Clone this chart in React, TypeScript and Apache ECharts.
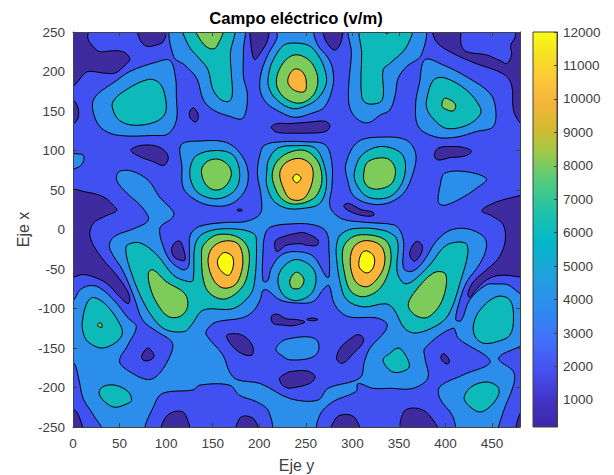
import React, { useEffect, useRef } from "react";
import * as echarts from "echarts";

type P = number[][];

const xTicks = [0, 50, 100, 150, 200, 250, 300, 350, 400, 450];
const barTicks = [1000, 2000, 3000, 4000, 5000, 6000, 7000, 8000, 9000, 10000, 11000, 12000];
const barRange = [190, 12000];
const parula: [number, string][] = [
  [0, "#3e26a8"], [0.07, "#4234c8"], [0.14, "#4750ee"], [0.22, "#4070fa"], [0.3, "#2d8cf0"],
  [0.38, "#22a0dc"], [0.47, "#02b8c8"], [0.55, "#22c4a8"], [0.63, "#58cc78"], [0.7, "#a4c844"],
  [0.76, "#d6ba30"], [0.82, "#f4b43c"], [0.88, "#fcc838"], [0.94, "#f6e024"], [1, "#f9fb15"],
];

const c0 = "#3d2b9f";
const c1 = "#4150f0";
const c2 = "#2a8eea";
const c3 = "#0db9b9";
const c4 = "#7ccb5b";
const c5 = "#fdb43c";
const c6 = "#f9fb10";

// Level 2 regions (outlines in data units: eje y, eje x)
const l2Big: P = [[-8,-92],[1,-89],[7,-77],[18,-71],[29,-74],[45,-91],[59,-112],[68,-123],[59,-146],[50,-167],[61,-180],[81,-190],[93,-182],[106,-155],[106,-142],[90,-129],[75,-115],[66,-87],[54,-53],[40,-26],[40,-15],[47,-7],[61,-1],[75,6],[80,10],[81,16],[72,31],[58,46],[47,62],[49,73],[63,74],[81,62],[93,41],[108,22],[106,14],[95,5],[93,-1],[95,-15],[104,-39],[118,-51],[124,-47],[125,-26],[126,-7],[136,4],[165,9],[185,10],[201,20],[202,42],[198,71],[201,96],[206,107],[224,111],[249,111],[271,107],[278,84],[278,54],[276,29],[288,14],[315,9],[344,6],[351,-1],[355,-15],[355,-49],[364,-53],[376,-41],[390,-15],[405,-1],[423,1],[441,-9],[444,-22],[437,-43],[423,-66],[416,-87],[411,-114],[417,-115],[426,-89],[444,-70],[455,-69],[467,-70],[480,-81],[488,-85],[488,-258],[-8,-258]];
const l2Edge: P = [[-8,97],[2,96],[11,94],[11,86],[6,79],[-8,76]];
const l2TopLeft: P = [[21,160],[27,172],[45,187],[61,200],[90,212],[104,214],[110,193],[111,168],[111,138],[102,121],[86,119],[50,119],[33,126],[24,140]];
const l2Col: P = [[107,258],[108,219],[120,208],[133,191],[140,164],[151,151],[169,143],[181,140],[186,151],[187,174],[183,193],[183,227],[182,258]];
const l2ColR: P = [[298,258],[299,223],[296,181],[297,155],[305,140],[317,135],[330,145],[340,151],[346,170],[349,191],[358,206],[374,221],[376,258]];
const l2TopRight: P = [[368,160],[371,130],[390,117],[412,117],[433,124],[451,130],[454,151],[448,172],[423,193],[398,208],[378,215],[372,185]];
const l2Peak: P = [[220,258],[219,242],[210,223],[202,198],[201,176],[208,160],[222,149],[238,142],[256,147],[270,155],[279,181],[279,202],[274,217],[263,233],[258,250],[258,258]];
const l2MidL: P = [[116,107],[136,112],[165,110],[181,94],[188,73],[185,50],[169,32],[145,31],[127,41],[118,54],[117,79]];
const l2MidR: P = [[293,83],[306,111],[333,117],[358,113],[368,96],[365,71],[355,46],[337,33],[317,33],[301,43],[295,62]];
const l2Side: P = [[392,37],[394,54],[399,71],[423,73],[444,64],[433,52],[419,41],[401,31],[394,32]];
const l2Island: P = [[218,-152],[224,-142],[233,-138],[254,-136],[263,-142],[263,-155],[254,-163],[233,-165],[226,-161]];

// Level 1 pockets inside the big level 2 region
const holeU: P = [[204,-65],[204,-30],[206,-7],[212,3],[233,7],[258,6],[272,-3],[275,-30],[275,-60],[272,-60],[258,-34],[240,-28],[224,-32],[213,-49],[209,-65]];
const holeA: P = [[204,-77],[209,-77],[222,-89],[240,-93],[258,-91],[270,-74],[275,-71],[281,-95],[295,-110],[326,-112],[337,-119],[335,-129],[319,-150],[313,-167],[308,-188],[274,-201],[263,-216],[233,-214],[201,-195],[176,-190],[168,-180],[161,-159],[143,-133],[145,-125],[154,-117],[181,-112],[193,-104],[201,-89]];
const holeB: P = [[264,-258],[265,-235],[279,-218],[304,-205],[306,-195],[322,-201],[340,-201],[365,-201],[381,-188],[378,-163],[378,-150],[408,-125],[414,-138],[448,-167],[419,-184],[394,-199],[394,-214],[408,-237],[408,-258]];
const holeC: P = [[80,-258],[88,-220],[97,-207],[129,-203],[136,-197],[168,-197],[179,-210],[197,-218],[210,-230],[211,-258]];
const holeD: P = [[457,-163],[473,-180],[473,-197],[462,-231],[458,-258],[488,-258],[488,-144],[480,-148]];
const holeE: P = [[32,-258],[22,-235],[11,-214],[6,-188],[1,-169],[-8,-165],[-8,-258]];

// Level 0 depressions
const l0Shapes: P[] = [
  [[16,258],[16,242],[22,231],[29,225],[40,226],[54,225],[61,216],[56,208],[45,198],[33,198],[16,200],[9,193],[2,183],[-8,175],[-8,258]],
  [[-8,168],[2,162],[6,150],[4,138],[-8,128]],
  [[70,258],[72,240],[79,232],[88,233],[97,238],[100,258]],
  [[192,258],[191,235],[195,215],[201,223],[209,240],[209,258]],
  [[129,154],[134,147],[134,139],[131,136],[126,141],[125,148]],
  [[213,130],[219,134],[233,134],[254,136],[271,137],[276,131],[271,124],[254,122],[233,122],[226,122],[217,124]],
  [[62,100],[68,105],[81,107],[93,104],[101,96],[102,88],[97,81],[86,86],[72,92]],
  [[-8,48],[16,47],[33,41],[43,31],[47,24],[33,16],[22,8],[18,-5],[22,-20],[33,-39],[47,-58],[59,-79],[61,-89],[59,-94],[50,-85],[36,-68],[22,-60],[11,-57],[-8,-60]],
  [[176,24.5],[179,26],[182,24.5],[179,23]],
  [[269,258],[271,240],[281,227],[288,238],[288,258]],
  [[387,258],[390,238],[408,223],[433,210],[462,197],[471,183],[473,151],[480,135],[488,128],[488,258],[476,258],[475,244],[470,233],[471,221],[466,210],[460,213],[444,221],[423,225],[417,233],[414,258]],
  [[388,94],[392,103],[405,105],[419,104],[428,99],[421,93],[405,91],[392,88]],
  [[291,31],[296,33],[310,25],[322,22],[323,18],[314,17],[301,21],[292,27]],
  [[439,24],[455,35],[480,43],[488,46],[488,-62],[480,-60],[458,-58],[444,-64],[433,-76],[426,-86],[424,-81],[430,-66],[444,-51],[457,-36],[464,-15],[462,6],[450,17]],
  [[106,-24],[110,-16],[115,-15],[119,-26],[120,-39],[111,-37],[107,-32]],
  [[217,-15],[226,-9],[244,-4],[251,-5],[263,-13],[262,-20],[251,-20],[244,-18],[229,-20],[219,-28]],
  [[213,-110],[219,-107],[229,-113],[240,-114],[249,-117],[240,-121],[233,-122],[226,-121],[215,-119]],
  [[251,-114],[257,-112],[263,-114],[257,-115.5]],
  [[165,-134],[176,-132],[185,-136],[193,-148],[192,-159],[181,-157],[170,-146]],
  [[74,-159],[80,-150],[84,-153],[87,-161],[81,-166],[75,-165]],
  [[222,-188],[229,-182],[233,-180],[251,-179],[260,-186],[254,-195],[233,-201],[229,-200],[224,-196]],
  [[95,-258],[100,-237],[111,-230],[120,-233],[124,-258]],
  [[175,-258],[179,-239],[186,-236],[195,-241],[199,-258]],
  [[-8,-225],[1,-228],[6,-235],[10,-258],[-8,-258]],
  [[283,-163],[287,-150],[296,-140],[306,-133],[312,-138],[310,-146],[301,-157],[292,-168],[287,-169]],
  [[277,-258],[283,-238],[294,-234],[303,-239],[308,-258]],
  [[353,-258],[355,-231],[367,-226],[381,-233],[392,-258]],
  [[362,-34],[363,-24],[369,-15],[375,-20],[374,-30],[367,-40]],
  [[395,-162],[398,-157],[404,-165],[403,-170],[398,-168]],
  [[476,-258],[480,-233],[488,-225],[488,-258]],
];

// Level 3 regions
const l3Shapes: P[] = [
  [[58,-20],[72,-17],[90,-32],[108,-58],[124,-66],[129,-64],[131,-20],[140,-5],[165,1],[194,-5],[197,-20],[195,-66],[190,-83],[172,-100],[140,-102],[127,-121],[120,-129],[100,-127],[86,-112],[72,-83],[61,-49],[57,-30]],
  [[283,-20],[287,-7],[301,1],[333,-1],[348,-13],[348,-53],[355,-68],[364,-66],[383,-45],[401,-20],[421,-17],[424,-30],[416,-66],[405,-104],[394,-119],[369,-131],[356,-125],[344,-100],[335,-94],[312,-98],[294,-89],[287,-68],[283,-36]],
  [[220,-64],[226,-47],[240,-38],[256,-47],[261,-62],[256,-81],[240,-90],[226,-83]],
  [[236,236],[226,233],[217,219],[211,202],[210,181],[219,164],[236,153],[251,157],[263,166],[272,185],[270,204],[263,221],[253,233]],
  [[208,71],[210,88],[220,103],[238,106],[260,103],[270,80],[272,54],[265,33],[249,27],[229,27],[215,37],[208,56]],
  [[126,79],[133,94],[154,100],[172,94],[179,71],[174,50],[156,39],[136,45],[127,60]],
  [[302,71],[310,94],[330,105],[351,98],[357,83],[353,58],[339,41],[317,41],[305,56]],
  [[43,162],[56,176],[81,190],[93,185],[99,168],[99,147],[88,136],[65,132],[50,138],[43,151]],
  [[119,258],[124,233],[136,216],[145,202],[150,178],[158,165],[167,162],[171,170],[170,197],[169,223],[172,258]],
  [[310,258],[310,223],[310,168],[317,159],[332,164],[333,202],[340,210],[358,231],[363,258]],
  [[380,166],[387,189],[399,192],[423,176],[437,155],[437,145],[423,132],[401,128],[387,140],[380,153]],
  [[10,-117],[15,-93],[22,-86],[36,-96],[49,-117],[53,-131],[47,-142],[31,-150],[16,-142],[11,-131]],
  [[28,-207],[32,-199],[45,-197],[59,-205],[63,-216],[59,-220],[45,-225],[34,-218]],
  [[333,-165],[340,-157],[349,-150],[356,-157],[361,-174],[349,-181],[340,-178]],
  [[430,-121],[437,-102],[455,-85],[469,-89],[473,-112],[469,-134],[455,-142],[441,-144],[432,-136]],
  [[420,-213],[428,-199],[444,-193],[456,-199],[457,-209],[448,-224],[437,-231],[426,-224]],
];

// Level 4 regions
const l4Shapes: P[] = [
  [[81,-55],[86,-51],[100,-66],[120,-81],[123,-98],[115,-110],[102,-110],[90,-93],[83,-74]],
  [[138,-32],[140,-20],[154,-7],[176,-9],[188,-24],[188,-53],[181,-74],[163,-88],[147,-81],[140,-64]],
  [[290,-24],[301,-9],[319,-7],[335,-13],[341,-26],[340,-49],[330,-74],[313,-85],[299,-79],[292,-58]],
  [[360,-96],[367,-79],[387,-55],[399,-55],[401,-68],[396,-91],[387,-106],[378,-112],[367,-108]],
  [[233,-64],[240,-54],[248,-63],[244,-74],[235,-74]],
  [[238,221],[228,214],[220,198],[219,181],[228,166],[244,160],[258,170],[263,189],[258,208],[249,218]],
  [[214,71],[219,86],[231,97],[249,100],[262,88],[267,71],[266,54],[258,39],[238,32],[224,39],[216,56]],
  [[138,75],[144,86],[156,89],[167,81],[170,69],[163,54],[152,50],[142,58]],
  [[312,69],[317,86],[337,90],[346,77],[342,58],[326,51],[315,56]],
  [[131,258],[138,238],[147,229],[154,231],[161,258]],
  [[332,254],[337,248],[342,254]],
  [[396,157],[399,166],[408,162],[411,156],[408,150],[399,153]],
  [[26,-121],[30,-118],[31,-124]],
];

// Level 5 regions
const l5Shapes: P[] = [
  [[145,-41],[149,-24],[161,-15],[176,-17],[182,-32],[181,-53],[174,-70],[161,-74],[151,-64]],
  [[298,-34],[303,-20],[315,-14],[330,-20],[335,-36],[331,-55],[317,-72],[305,-68],[299,-53]],
  [[238,203],[232,195],[231,185],[238,176],[249,175],[250,191],[245,201]],
  [[222,71],[228,84],[242,90],[254,84],[258,71],[254,50],[246,38],[233,39],[226,52]],
];

// Level 6 regions
const l6Shapes: P[] = [
  [[155,-41],[158,-33],[163,-29],[171,-34],[172,-47],[167,-58],[158,-51]],
  [[307,-41],[310,-30],[315,-27],[322,-32],[324,-41],[321,-51],[315,-55],[308,-49]],
  [[236,65],[240,70],[245,65],[240,59]],
];

const layers: { color: string; shapes: P[] }[] = [
  { color: c2, shapes: [l2Big, l2Edge, l2TopLeft, l2Col, l2ColR, l2TopRight, l2Peak, l2MidL, l2MidR, l2Side] },
  { color: c1, shapes: [holeU, holeA, holeB, holeC, holeD, holeE] },
  { color: c2, shapes: [l2Island] },
  { color: c0, shapes: l0Shapes },
  { color: c3, shapes: l3Shapes },
  { color: c4, shapes: l4Shapes },
  { color: c5, shapes: l5Shapes },
  { color: c6, shapes: l6Shapes },
];

const FONT = "'Liberation Sans', Arial, sans-serif";
const AXIS = "#404040";
const TXT = "#404040";
const TICK_SIZE = 13.5;

export default function App() {
  const ref = useRef<HTMLDivElement>(null);
  useEffect(() => {
    if (!ref.current) return;
    const chart = echarts.init(ref.current, undefined, { renderer: "svg" });
    const items: { color: string; pts: P }[] = [];
    layers.forEach((l) => l.shapes.forEach((pts) => items.push({ color: l.color, pts })));

    const boxAxis = (extra: any) => ({
      axisLine: { show: true, onZero: false, lineStyle: { color: AXIS, width: 1 } },
      splitLine: { show: false },
      z: 5,
      ...extra,
    });

    chart.setOption({
      animation: false,
      backgroundColor: "#ffffff",
      title: {
        text: "Campo eléctrico (v/m)",
        left: 291,
        top: 5,
        textAlign: "center",
        textStyle: { fontFamily: FONT, fontSize: 16.6, fontWeight: "bold", color: "#000" },
      },
      grid: [
        { left: 73, top: 32, width: 447, height: 395, show: true, backgroundColor: c1, borderWidth: 0, outerBoundsMode: "none", containLabel: false },
        { left: 533, top: 32, width: 24, height: 395, show: false, outerBoundsMode: "none", containLabel: false },
      ],
      xAxis: [
        boxAxis({
          gridIndex: 0, type: "value", min: 0, max: 480, position: "bottom",
          name: "Eje y", nameLocation: "middle", nameGap: 30, nameMoveOverlap: false,
          nameTextStyle: { fontFamily: FONT, fontSize: 16, color: TXT },
          axisTick: { show: true, inside: true, length: 4, customValues: xTicks, lineStyle: { color: AXIS } },
          axisLabel: { customValues: xTicks, fontFamily: FONT, fontSize: TICK_SIZE, color: TXT, margin: 9 },
        }),
        boxAxis({
          gridIndex: 0, type: "value", min: 0, max: 480, position: "top",
          axisTick: { show: true, inside: true, length: 4, customValues: xTicks, lineStyle: { color: AXIS } },
          axisLabel: { show: false },
        }),
        { gridIndex: 1, type: "value", min: 0, max: 1, show: false },
      ],
      yAxis: [
        boxAxis({
          gridIndex: 0, type: "value", min: -250, max: 250, interval: 50, position: "left",
          name: "Eje x", nameLocation: "middle", nameGap: 42, nameRotate: 90, nameMoveOverlap: false,
          nameTextStyle: { fontFamily: FONT, fontSize: 16, color: TXT },
          axisTick: { show: true, inside: true, length: 4, lineStyle: { color: AXIS } },
          axisLabel: { fontFamily: FONT, fontSize: TICK_SIZE, color: TXT, margin: 8 },
        }),
        boxAxis({
          gridIndex: 0, type: "value", min: -250, max: 250, interval: 50, position: "right",
          axisTick: { show: true, inside: true, length: 4, lineStyle: { color: AXIS } },
          axisLabel: { show: false },
        }),
        boxAxis({
          gridIndex: 1, type: "value", min: barRange[0], max: barRange[1], position: "right",
          axisTick: { show: true, inside: true, length: 3, customValues: barTicks, lineStyle: { color: AXIS } },
          axisLabel: { customValues: barTicks, formatter: (v: number) => String(v), fontFamily: FONT, fontSize: TICK_SIZE, color: TXT, margin: 6 },
        }),
      ],
      series: [
        {
          type: "custom",
          xAxisIndex: 0,
          yAxisIndex: 0,
          clip: true,
          silent: true,
          data: items.map((_, i) => [i, 0]),
          renderItem: (params: any, api: any) => {
            const it = items[params.dataIndex];
            const points = it.pts.map((p) => api.coord(p));
            return {
              type: "polygon",
              shape: { points, smooth: 0.35 },
              style: { fill: it.color, stroke: "#000000", lineWidth: 1 },
            };
          },
        },
        {
          type: "custom",
          xAxisIndex: 2,
          yAxisIndex: 2,
          silent: true,
          data: [[0, barRange[0]]],
          renderItem: (_: any, api: any) => {
            const a = api.coord([0, barRange[0]]);
            const b = api.coord([1, barRange[1]]);
            return {
              type: "rect",
              shape: { x: a[0], y: b[1], width: b[0] - a[0], height: a[1] - b[1] },
              style: {
                fill: new echarts.graphic.LinearGradient(0, 1, 0, 0, parula.map(([offset, color]) => ({ offset, color }))),
                stroke: AXIS,
                lineWidth: 1,
              },
            };
          },
        },
      ],
    });
    return () => chart.dispose();
  }, []);
  return <div ref={ref} style={{ position: "absolute", left: 0, top: 0, width: 614, height: 475 }} />;
}
